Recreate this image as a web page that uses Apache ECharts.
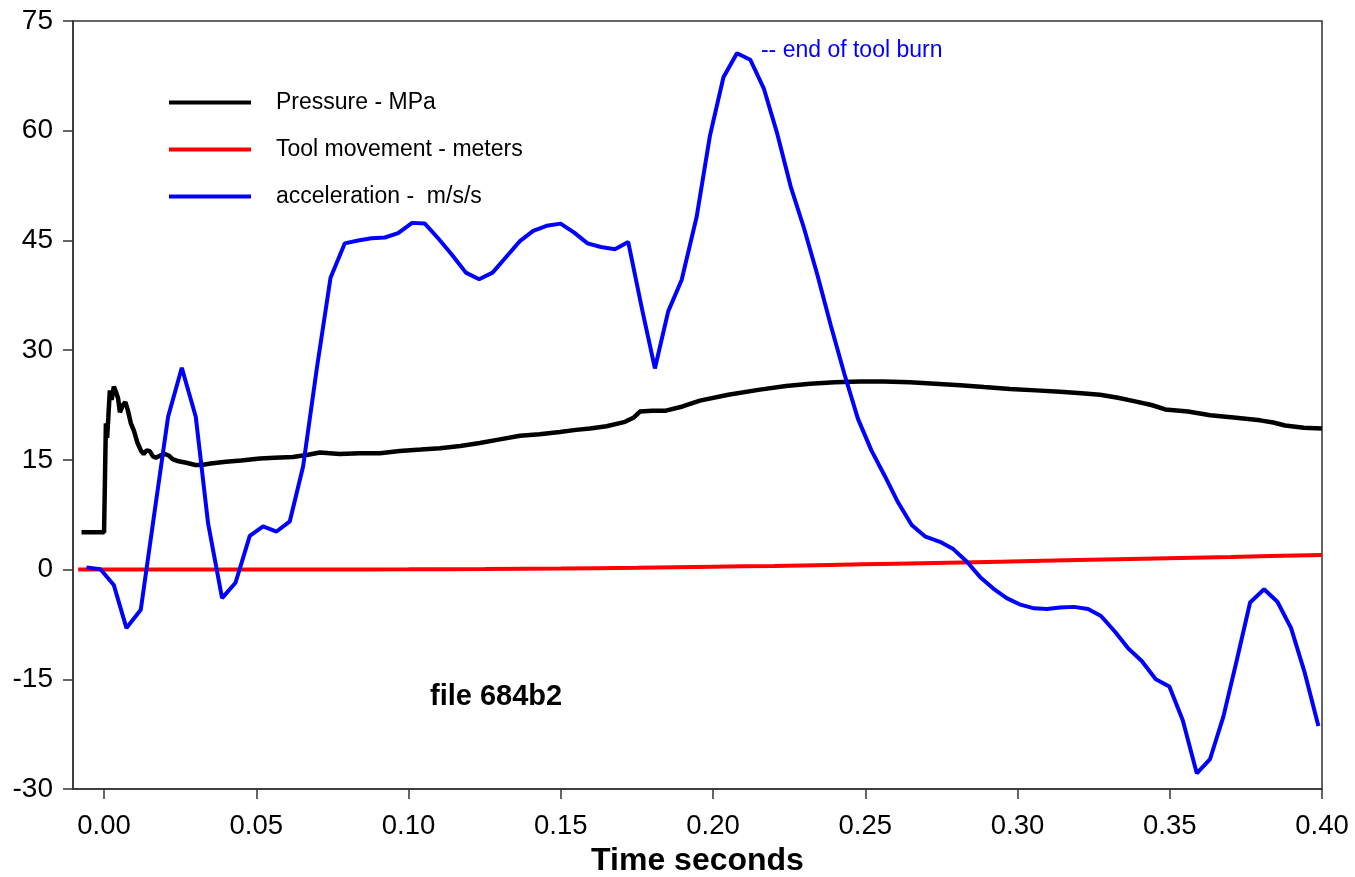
<!DOCTYPE html>
<html>
<head>
<meta charset="utf-8">
<script src="https://cdn.jsdelivr.net/npm/echarts@6/dist/echarts.min.js"></script>
<style>
  html, body { margin: 0; padding: 0; background: #fff; }
  #chart { width: 1355px; height: 877px; }
</style>
</head>
<body>
<div id="chart"></div>
<script>
// Time axis ticks (seconds)
const xTickValues = [0, 0.05, 0.10, 0.15, 0.20, 0.25, 0.30, 0.35, 0.40];

// Pressure - MPa : [time s, value]
const pressure = [
  [-0.0074, 5.1], [0.0000, 5.1], [0.0003, 5.0], [0.0006, 20.0], [0.0010, 18.0],
  [0.0014, 20.8], [0.0019, 24.5], [0.0025, 23.2], [0.0032, 25.0], [0.0040, 24.2],
  [0.0046, 23.4], [0.0052, 21.5], [0.0057, 21.4], [0.0062, 22.5], [0.0070, 22.9],
  [0.0078, 21.8], [0.0088, 20.0], [0.0098, 19.0], [0.0110, 17.3], [0.0122, 16.2],
  [0.0130, 15.8], [0.0140, 16.3], [0.0150, 16.2], [0.0160, 15.5], [0.0170, 15.3],
  [0.0185, 15.6], [0.0200, 15.8], [0.0212, 15.6], [0.0225, 15.1], [0.0245, 14.8],
  [0.0270, 14.6], [0.0300, 14.3], [0.0320, 14.3], [0.0350, 14.5], [0.0400, 14.75],
  [0.0450, 14.9], [0.0512, 15.2], [0.0560, 15.3], [0.0620, 15.4], [0.0670, 15.7],
  [0.0709, 16.0], [0.0774, 15.8], [0.0840, 15.9], [0.0906, 15.9], [0.0971, 16.2],
  [0.1040, 16.4], [0.1103, 16.6], [0.1170, 16.9], [0.1234, 17.3], [0.1300, 17.8],
  [0.1366, 18.3], [0.1430, 18.5], [0.1497, 18.8], [0.1550, 19.1], [0.1596, 19.3],
  [0.1650, 19.6], [0.1711, 20.2], [0.1740, 20.8], [0.1760, 21.6], [0.1800, 21.7],
  [0.1842, 21.7], [0.1900, 22.3], [0.1957, 23.1], [0.2050, 23.9], [0.2154, 24.6],
  [0.2240, 25.1], [0.2319, 25.4], [0.2400, 25.6], [0.2483, 25.7], [0.2560, 25.7],
  [0.2647, 25.6], [0.2730, 25.4], [0.2811, 25.2], [0.2890, 24.95], [0.2975, 24.7],
  [0.3060, 24.5], [0.3140, 24.3], [0.3210, 24.1], [0.3271, 23.9], [0.3330, 23.5],
  [0.3386, 23.0], [0.3440, 22.5], [0.3485, 21.9], [0.3560, 21.6], [0.3633, 21.1],
  [0.3710, 20.8], [0.3797, 20.4], [0.3840, 20.1], [0.3879, 19.7], [0.3940, 19.4],
  [0.4000, 19.3]
];

// Tool movement - meters : [time s, value]
const toolMovement = [
  [-0.0085, 0], [0.05, 0.0], [0.075, 0.01], [0.10, 0.03], [0.125, 0.08],
  [0.15, 0.15], [0.175, 0.25], [0.20, 0.38], [0.22, 0.50], [0.2384, 0.63],
  [0.26, 0.80], [0.2942, 1.08], [0.3369, 1.45], [0.37, 1.73], [0.40, 2.0]
];

// acceleration - m/s/s : [time s, value]
const acceleration = [
  [-0.00578, 0.3], [-0.00118, 0.05], [0.00319, -2.1], [0.00736, -8.0], [0.01206, -5.5],
  [0.01649, 7.6], [0.02103, 20.9], [0.02553, 27.6], [0.03012, 20.9], [0.03417, 6.3],
  [0.03876, -3.9], [0.04317, -1.8], [0.04786, 4.6], [0.05223, 5.9], [0.05664, 5.2],
  [0.06101, 6.6], [0.06537, 14.1], [0.06987, 27.5], [0.07438, 39.9], [0.07907, 44.6],
  [0.08344, 45.0], [0.08785, 45.3], [0.09222, 45.4], [0.09658, 46.0], [0.10118, 47.4],
  [0.10536, 47.3], [0.10972, 45.3], [0.11432, 43.0], [0.11882, 40.6], [0.12319, 39.7],
  [0.12760, 40.6], [0.13197, 42.7], [0.13657, 44.9], [0.14093, 46.3], [0.14534, 47.0],
  [0.14993, 47.3], [0.15430, 46.1], [0.15880, 44.6], [0.16317, 44.1], [0.16777, 43.8],
  [0.17214, 44.8], [0.17674, 35.5], [0.18091, 27.5], [0.18528, 35.3], [0.18969, 39.6],
  [0.19461, 48.2], [0.19898, 59.3], [0.20342, 67.3], [0.20785, 70.6], [0.21225, 69.7],
  [0.21666, 65.8], [0.22109, 59.6], [0.22549, 52.4], [0.22986, 46.7], [0.23433, 40.2],
  [0.23873, 33.3], [0.24317, 26.7], [0.24760, 20.6], [0.25201, 16.3], [0.25641, 12.8],
  [0.26075, 9.2], [0.26524, 6.1], [0.26978, 4.5], [0.27454, 3.8], [0.27891, 2.8],
  [0.28331, 1.1], [0.28768, -1.0], [0.29205, -2.6], [0.29645, -3.9], [0.30098, -4.8],
  [0.30542, -5.3], [0.30969, -5.4], [0.31396, -5.2], [0.31856, -5.1], [0.32316, -5.4],
  [0.32743, -6.35], [0.33203, -8.5], [0.33640, -10.8], [0.34080, -12.5], [0.34540, -15.0],
  [0.34987, -16.0], [0.35427, -20.6], [0.35887, -27.85], [0.36324, -25.9], [0.36761, -20.1],
  [0.37201, -12.4], [0.37638, -4.5], [0.38098, -2.7], [0.38535, -4.4], [0.38985, -8.0],
  [0.39422, -13.95], [0.39882, -21.4]
];

// Point where the burn ends (peak acceleration)
const burnEnd = [0.20785, 70.6];

const FONT = '"Liberation Sans", Arial, Helvetica, sans-serif';
const AXIS_COLOR = '#333';

const chart = echarts.init(document.getElementById('chart'), null, { renderer: 'canvas' });

chart.setOption({
  animation: false,
  backgroundColor: '#fff',
  textStyle: { fontFamily: FONT },
  grid: {
    left: 73, right: 33, top: 21, bottom: 88,
    outerBoundsMode: 'none',
    containLabel: false,
    show: true, borderColor: AXIS_COLOR, borderWidth: 1.5,
    backgroundColor: 'transparent'
  },
  legend: {
    orient: 'vertical',
    left: 164, top: 86,
    itemWidth: 82, itemHeight: 4, itemGap: 24,
    icon: 'rect',
    selectedMode: false,
    textStyle: {
      fontFamily: FONT, fontSize: 23, color: '#000',
      lineHeight: 23, padding: [0, 0, 0, 20]
    },
    data: ['Pressure - MPa', 'Tool movement - meters', 'acceleration -  m/s/s']
  },
  xAxis: {
    type: 'value',
    min: -0.0102, max: 0.40,
    name: 'Time seconds',
    nameLocation: 'middle',
    nameGap: 50,
    nameTextStyle: { fontFamily: FONT, fontSize: 32, fontWeight: 'bold', color: '#000' },
    splitLine: { show: false },
    axisLine: { show: true, onZero: false, lineStyle: { color: AXIS_COLOR, width: 1.5 } },
    axisTick: { show: true, inside: false, length: 10, customValues: xTickValues,
      lineStyle: { color: AXIS_COLOR, width: 1.5 } },
    axisLabel: {
      customValues: xTickValues, margin: 23, fontSize: 27.5, color: '#000', fontFamily: FONT,
      showMinLabel: true, showMaxLabel: true,
      formatter: v => v.toFixed(2)
    }
  },
  yAxis: {
    type: 'value',
    min: -30, max: 75, interval: 15,
    splitLine: { show: false },
    axisLine: { show: true, onZero: false, lineStyle: { color: AXIS_COLOR, width: 1.5 } },
    axisTick: { show: true, inside: false, length: 10, lineStyle: { color: AXIS_COLOR, width: 1.5 } },
    axisLabel: { margin: 20, fontSize: 28, color: '#000', fontFamily: FONT }
  },
  graphic: [
    {
      type: 'text', left: 430, top: 682,
      style: { text: 'file 684b2', fontFamily: FONT, fontSize: 29, fontWeight: 'bold', fill: '#000' }
    }
  ],
  series: [
    {
      name: 'Pressure - MPa', type: 'line', data: pressure,
      showSymbol: false, symbol: 'none',
      lineStyle: { color: '#000', width: 4.5 }, itemStyle: { color: '#000' }, z: 2
    },
    {
      name: 'Tool movement - meters', type: 'line', data: toolMovement,
      showSymbol: false, symbol: 'none', smooth: 0.3,
      lineStyle: { color: '#ff0000', width: 4 }, itemStyle: { color: '#ff0000' }, z: 3
    },
    {
      name: 'acceleration -  m/s/s', type: 'line', data: acceleration,
      showSymbol: false, symbol: 'none',
      lineStyle: { color: '#0000ff', width: 4 }, itemStyle: { color: '#0000ff' }, z: 4,
      markPoint: {
        symbol: 'circle', symbolSize: 0,
        data: [{
          coord: burnEnd,
          label: {
            show: true, position: 'right', distance: 24, offset: [0, -3],
            formatter: '-- end of tool burn',
            fontFamily: FONT, fontSize: 23, color: '#0000ff'
          }
        }]
      }
    }
  ]
});
</script>
</body>
</html>
